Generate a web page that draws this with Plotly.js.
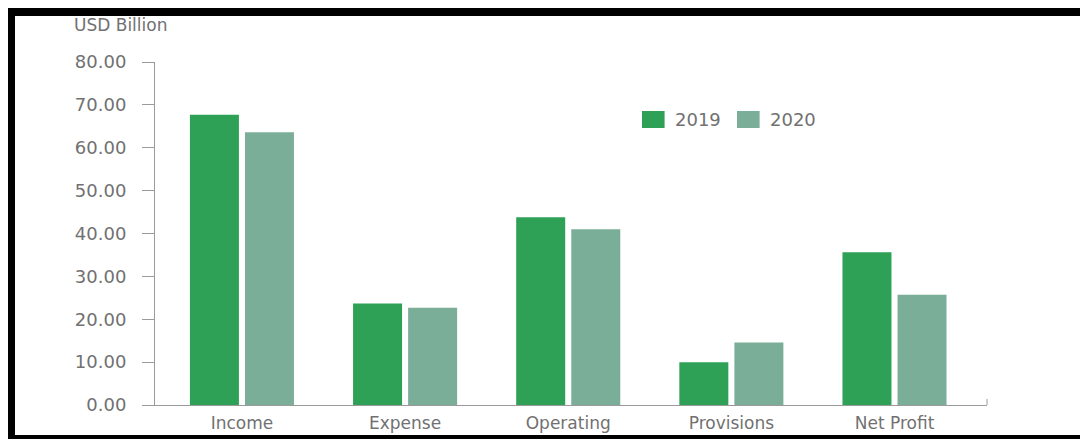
<!DOCTYPE html>
<html>
<head>
<meta charset="utf-8">
<script src="https://cdn.plot.ly/plotly-3.0.1.min.js"></script>
<style>
  html, body { margin: 0; padding: 0; background: #ffffff; }
  #wrap { position: relative; width: 1080px; height: 439px; overflow: hidden; background: #fff; }
  #chart { position: absolute; left: 0; top: 0; width: 1080px; height: 439px; }
  #frame { position: absolute; left: 8px; top: 8px; width: 1072px; height: 431px;
           box-sizing: border-box; border-top: 8px solid #000; border-left: 7px solid #000;
           border-bottom: 4px solid #000; pointer-events: none; }
</style>
</head>
<body>
<div id="wrap">
  <div id="chart"></div>
  <div id="frame"></div>
</div>
<script>
const categories = ["Income", "Expense", "Operating", "Provisions", "Net Profit"];
const seriesNames = ["2019", "2020"];
const values2019 = [67.7, 23.7, 43.8, 10.0, 35.6];
const values2020 = [63.6, 22.7, 41.0, 14.6, 25.7];
const yTickVals = [0, 10, 20, 30, 40, 50, 60, 70, 80];
const yTickText = ["0.00", "10.00", "20.00", "30.00", "40.00", "50.00", "60.00", "70.00", "80.00"];
const colors = ["#2ea157", "#7bae98"];

const fontFam = "'DejaVu Sans', Verdana, sans-serif";
const gray = "#717171";
const axisGray = "#9a9a9a";

const traces = [
  { type: "bar", name: seriesNames[0], x: categories, y: values2019,
    marker: { color: colors[0] }, hoverinfo: "x+y+name", showlegend: false },
  { type: "bar", name: seriesNames[1], x: categories, y: values2020,
    marker: { color: colors[1] }, hoverinfo: "x+y+name", showlegend: false }
];

// legend (drawn as shapes + text, with larger swatches like the reference)
const legendX = [0.5853, 0.6995];
const swatchW = 0.0272;
const legendShapes = seriesNames.map((n, i) => ({
  type: "rect", xref: "paper", yref: "paper",
  x0: legendX[i], x1: legendX[i] + swatchW, y0: 0.8076, y1: 0.8571,
  fillcolor: colors[i], line: { width: 0 }
}));
const legendTexts = seriesNames.map((n, i) => ({
  text: n, xref: "paper", yref: "paper", x: legendX[i] + swatchW + 0.0095, y: 0.833,
  xanchor: "left", yanchor: "middle", showarrow: false,
  font: { family: fontFam, size: 18, color: gray }
}));

const layout = {
  width: 1080, height: 439,
  margin: { l: 155, r: 93, t: 62, b: 34, pad: 0 },
  paper_bgcolor: "#ffffff", plot_bgcolor: "#ffffff",
  barmode: "group", bargap: 0.325, bargroupgap: 0.11,
  font: { family: fontFam, color: gray, size: 16 },
  showlegend: false,
  xaxis: { type: "category", range: [-0.533, 4.567], showgrid: false, zeroline: false,
           showline: true, linecolor: axisGray, linewidth: 1, ticks: "",
           tickfont: { family: fontFam, size: 17, color: gray }, ticklabelstandoff: 3,
           fixedrange: true },
  yaxis: { range: [0, 80], tickvals: yTickVals, ticktext: yTickText, showgrid: false,
           zeroline: false, showline: true, linecolor: axisGray, linewidth: 1,
           ticks: "outside", ticklen: 12, tickcolor: axisGray, tickwidth: 1,
           tickfont: { family: fontFam, size: 18, color: gray }, ticklabelstandoff: 12,
           fixedrange: true },
  shapes: [
    { type: "line", xref: "paper", yref: "y", x0: 1, x1: 1, y0: 0, y1: 1.4,
      line: { color: axisGray, width: 1 } }
  ].concat(legendShapes),
  annotations: [
    { text: "USD Billion", xref: "paper", yref: "paper", x: -0.1, y: 1.108,
      xanchor: "left", yanchor: "middle", showarrow: false,
      font: { family: fontFam, size: 17, color: gray } }
  ].concat(legendTexts)
};

Plotly.newPlot("chart", traces, layout, { displayModeBar: false, staticPlot: true });
</script>
</body>
</html>
